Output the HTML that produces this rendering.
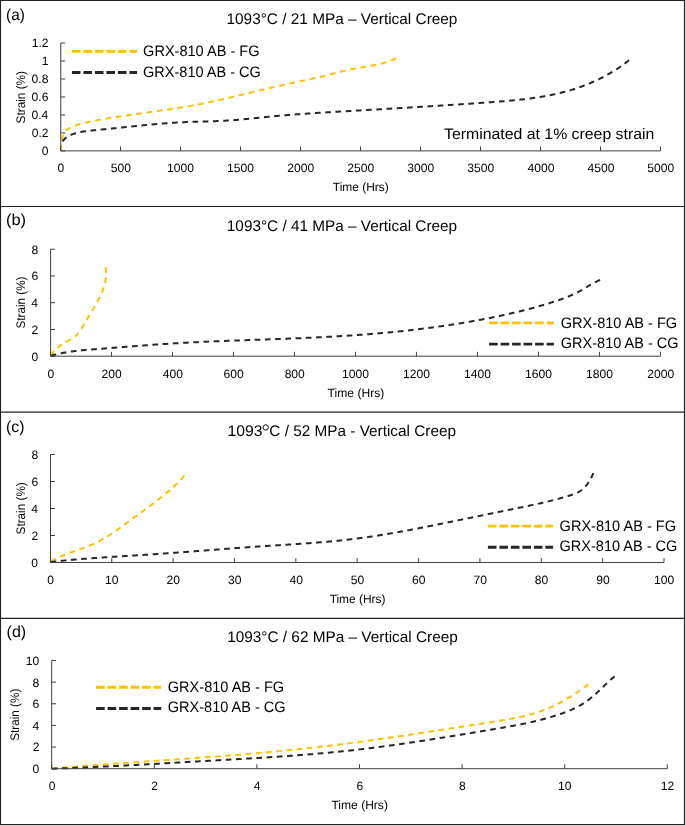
<!DOCTYPE html>
<html><head><meta charset="utf-8"><style>
html,body{margin:0;padding:0;background:#fff;}
svg{display:block;will-change:transform;}
text{font-family:"Liberation Sans",sans-serif;}
</style></head><body>
<svg width="685" height="825" viewBox="0 0 685 825" text-rendering="geometricPrecision">
<rect x="0" y="0" width="685" height="825" fill="#fff"/>
<text x="6.05" y="19.80" font-size="16.00" textLength="18.81" lengthAdjust="spacingAndGlyphs" fill="#000" >(a)</text>
<text x="226.53" y="24.20" font-size="15.40" textLength="230.91" lengthAdjust="spacingAndGlyphs" fill="#000" >1093°C / 21 MPa – Vertical Creep</text>
<path d="M61.00,150.50 L60.97,149.46 L60.96,148.44 L60.98,147.43 L61.03,146.44 L61.11,145.45 L61.20,144.47 L61.33,143.50 L61.47,142.52 L61.63,141.54 L61.82,140.56 L62.02,139.58 L62.24,138.58 L62.47,137.57 L62.74,136.56 L63.03,135.56 L63.37,134.59 L63.76,133.66 L64.21,132.78 L64.73,131.96 L65.33,131.22 L66.01,130.57 L66.75,129.99 L67.54,129.44 L68.36,128.92 L69.20,128.42 L70.06,127.94 L70.95,127.48 L71.86,127.03 L72.78,126.61 L73.71,126.21 L74.66,125.82 L75.62,125.45 L76.59,125.10 L77.56,124.77 L78.54,124.45 L79.52,124.15 L80.50,123.87 L81.48,123.60 L82.46,123.34 L83.44,123.09 L84.41,122.86 L85.39,122.63 L86.37,122.41 L87.35,122.20 L88.33,121.99 L89.31,121.79 L90.29,121.59 L91.28,121.39 L92.26,121.20 L93.24,121.00 L94.22,120.81 L95.21,120.62 L96.19,120.44 L97.17,120.25 L98.16,120.07 L99.14,119.88 L100.13,119.70 L101.12,119.53 L102.10,119.35 L103.09,119.17 L104.08,119.00 L105.07,118.83 L106.05,118.66 L107.04,118.49 L108.03,118.33 L109.02,118.16 L110.01,118.00 L111.00,117.83 L111.99,117.67 L112.98,117.51 L113.97,117.35 L114.96,117.20 L115.95,117.04 L116.95,116.89 L117.94,116.73 L118.93,116.58 L119.92,116.43 L120.92,116.28 L121.91,116.13 L122.90,115.98 L123.90,115.83 L124.89,115.68 L125.89,115.54 L126.88,115.39 L127.87,115.25 L128.87,115.10 L129.86,114.96 L130.86,114.81 L131.85,114.67 L132.85,114.53 L133.85,114.39 L134.84,114.25 L135.84,114.11 L136.83,113.97 L137.83,113.83 L138.82,113.69 L139.82,113.55 L140.82,113.41 L141.81,113.27 L142.81,113.13 L143.81,112.99 L144.80,112.86 L145.80,112.72 L146.80,112.58 L147.79,112.44 L148.79,112.30 L149.79,112.16 L150.78,112.02 L151.78,111.88 L152.78,111.74 L153.77,111.60 L154.77,111.46 L155.76,111.32 L156.76,111.18 L157.76,111.04 L158.75,110.90 L159.75,110.76 L160.75,110.61 L161.74,110.47 L162.74,110.33 L163.73,110.18 L164.73,110.04 L165.72,109.89 L166.72,109.74 L167.72,109.59 L168.71,109.45 L169.70,109.30 L170.70,109.15 L171.69,108.99 L172.69,108.84 L173.68,108.69 L174.68,108.53 L175.67,108.38 L176.66,108.22 L177.66,108.06 L178.65,107.90 L179.64,107.74 L180.63,107.58 L181.63,107.41 L182.62,107.25 L183.61,107.08 L184.60,106.91 L185.59,106.74 L186.58,106.57 L187.57,106.40 L188.56,106.22 L189.55,106.05 L190.54,105.87 L191.53,105.69 L192.52,105.51 L193.51,105.32 L194.49,105.14 L195.48,104.95 L196.47,104.76 L197.46,104.57 L198.44,104.38 L199.43,104.19 L200.41,103.99 L201.40,103.80 L202.39,103.60 L203.37,103.40 L204.36,103.20 L205.34,103.00 L206.32,102.80 L207.31,102.59 L208.29,102.39 L209.27,102.18 L210.26,101.97 L211.24,101.76 L212.22,101.55 L213.21,101.34 L214.19,101.13 L215.17,100.91 L216.15,100.70 L217.13,100.48 L218.11,100.27 L219.10,100.05 L220.08,99.83 L221.06,99.61 L222.04,99.39 L223.02,99.17 L224.00,98.95 L224.98,98.72 L225.96,98.50 L226.94,98.28 L227.92,98.05 L228.90,97.82 L229.88,97.60 L230.86,97.37 L231.84,97.14 L232.81,96.91 L233.79,96.68 L234.77,96.46 L235.75,96.23 L236.73,95.99 L237.71,95.76 L238.69,95.53 L239.66,95.30 L240.64,95.07 L241.62,94.83 L242.60,94.60 L243.58,94.37 L244.55,94.13 L245.53,93.90 L246.51,93.67 L247.49,93.43 L248.47,93.20 L249.44,92.96 L250.42,92.73 L251.40,92.49 L252.38,92.26 L253.35,92.03 L254.33,91.79 L255.31,91.56 L256.29,91.32 L257.27,91.09 L258.24,90.85 L259.22,90.62 L260.20,90.38 L261.18,90.15 L262.16,89.92 L263.13,89.68 L264.11,89.45 L265.09,89.22 L266.07,88.98 L267.05,88.75 L268.02,88.52 L269.00,88.29 L269.98,88.06 L270.96,87.83 L271.94,87.60 L272.92,87.37 L273.90,87.14 L274.88,86.91 L275.86,86.69 L276.84,86.46 L277.81,86.23 L278.79,86.01 L279.77,85.78 L280.75,85.56 L281.73,85.33 L282.71,85.11 L283.70,84.89 L284.68,84.67 L285.66,84.45 L286.64,84.23 L287.62,84.01 L288.60,83.80 L289.58,83.58 L290.56,83.36 L291.55,83.15 L292.53,82.94 L293.51,82.72 L294.49,82.51 L295.48,82.30 L296.46,82.09 L297.44,81.88 L298.43,81.68 L299.41,81.47 L300.39,81.26 L301.38,81.05 L302.36,80.84 L303.34,80.63 L304.32,80.42 L305.31,80.21 L306.29,80.00 L307.27,79.79 L308.26,79.58 L309.24,79.37 L310.22,79.16 L311.20,78.94 L312.18,78.73 L313.16,78.51 L314.14,78.29 L315.13,78.07 L316.11,77.85 L317.08,77.62 L318.06,77.40 L319.04,77.17 L320.02,76.94 L321.00,76.71 L321.98,76.47 L322.95,76.24 L323.93,76.00 L324.90,75.75 L325.88,75.51 L326.85,75.27 L327.83,75.02 L328.80,74.77 L329.78,74.52 L330.75,74.27 L331.72,74.02 L332.70,73.77 L333.67,73.52 L334.64,73.27 L335.62,73.02 L336.59,72.77 L337.57,72.53 L338.54,72.28 L339.52,72.04 L340.49,71.79 L341.47,71.55 L342.45,71.31 L343.42,71.08 L344.40,70.85 L345.38,70.62 L346.36,70.39 L347.34,70.17 L348.32,69.95 L349.30,69.73 L350.29,69.52 L351.27,69.32 L352.26,69.12 L353.24,68.92 L354.23,68.73 L355.22,68.54 L356.21,68.36 L357.20,68.18 L358.19,68.01 L359.19,67.83 L360.18,67.66 L361.17,67.49 L362.16,67.32 L363.16,67.15 L364.15,66.98 L365.14,66.81 L366.13,66.65 L367.13,66.47 L368.12,66.30 L369.11,66.13 L370.10,65.95 L371.09,65.77 L372.08,65.58 L373.06,65.40 L374.05,65.20 L375.03,65.00 L376.02,64.80 L377.00,64.59 L377.98,64.37 L378.96,64.15 L379.93,63.92 L380.91,63.68 L381.88,63.43 L382.85,63.18 L383.81,62.91 L384.78,62.64 L385.74,62.35 L386.70,62.06 L387.65,61.75 L388.60,61.43 L389.55,61.10 L390.50,60.75 L391.44,60.40 L392.38,60.03 L393.32,59.64 L394.25,59.24 L395.18,58.83 L396.10,58.40" fill="none" stroke="#FFC000" stroke-width="2.0" stroke-dasharray="5.762 4.650"/>
<path d="M62.59,141.29 L63.24,140.47 L63.93,139.71 L64.64,139.00 L65.38,138.33 L66.14,137.71 L66.92,137.13 L67.73,136.59 L68.55,136.09 L69.40,135.63 L70.26,135.19 L71.13,134.79 L72.02,134.42 L72.93,134.07 L73.84,133.75 L74.76,133.45 L75.70,133.17 L76.64,132.91 L77.58,132.66 L78.54,132.44 L79.50,132.22 L80.47,132.02 L81.44,131.84 L82.42,131.67 L83.40,131.50 L84.39,131.35 L85.38,131.21 L86.38,131.08 L87.38,130.96 L88.38,130.84 L89.38,130.73 L90.39,130.63 L91.40,130.53 L92.41,130.43 L93.42,130.33 L94.43,130.24 L95.44,130.14 L96.45,130.05 L97.46,129.95 L98.47,129.86 L99.47,129.76 L100.48,129.66 L101.49,129.56 L102.50,129.47 L103.50,129.37 L104.51,129.27 L105.51,129.17 L106.52,129.07 L107.52,128.97 L108.52,128.86 L109.53,128.76 L110.53,128.66 L111.53,128.56 L112.54,128.45 L113.54,128.35 L114.54,128.25 L115.54,128.14 L116.54,128.04 L117.54,127.94 L118.54,127.83 L119.54,127.73 L120.54,127.63 L121.54,127.52 L122.54,127.42 L123.53,127.31 L124.53,127.21 L125.53,127.11 L126.53,127.00 L127.53,126.90 L128.52,126.79 L129.52,126.69 L130.52,126.59 L131.51,126.49 L132.51,126.38 L133.51,126.28 L134.50,126.18 L135.50,126.08 L136.49,125.98 L137.49,125.88 L138.48,125.78 L139.48,125.68 L140.47,125.58 L141.47,125.48 L142.46,125.38 L143.46,125.28 L144.45,125.19 L145.45,125.09 L146.44,124.99 L147.44,124.90 L148.43,124.80 L149.43,124.71 L150.42,124.62 L151.42,124.53 L152.41,124.44 L153.41,124.35 L154.40,124.26 L155.40,124.17 L156.39,124.08 L157.39,124.00 L158.38,123.91 L159.38,123.83 L160.37,123.74 L161.37,123.66 L162.36,123.58 L163.36,123.50 L164.35,123.42 L165.35,123.35 L166.34,123.27 L167.34,123.20 L168.34,123.12 L169.33,123.05 L170.33,122.98 L171.33,122.91 L172.32,122.84 L173.32,122.78 L174.32,122.71 L175.32,122.65 L176.32,122.59 L177.31,122.53 L178.31,122.47 L179.31,122.41 L180.31,122.36 L181.31,122.30 L182.31,122.25 L183.31,122.20 L184.31,122.15 L185.31,122.11 L186.32,122.06 L187.32,122.02 L188.32,121.98 L189.32,121.94 L190.32,121.90 L191.33,121.86 L192.33,121.83 L193.33,121.79 L194.34,121.76 L195.34,121.73 L196.35,121.70 L197.35,121.67 L198.36,121.64 L199.36,121.61 L200.37,121.58 L201.37,121.55 L202.38,121.53 L203.38,121.50 L204.39,121.47 L205.39,121.44 L206.40,121.41 L207.40,121.38 L208.41,121.35 L209.42,121.32 L210.42,121.29 L211.43,121.26 L212.43,121.23 L213.44,121.20 L214.44,121.16 L215.45,121.13 L216.45,121.09 L217.46,121.05 L218.46,121.01 L219.47,120.97 L220.47,120.93 L221.47,120.88 L222.48,120.83 L223.48,120.78 L224.48,120.73 L225.49,120.68 L226.49,120.62 L227.49,120.56 L228.49,120.50 L229.49,120.44 L230.49,120.37 L231.49,120.30 L232.49,120.23 L233.49,120.15 L234.49,120.08 L235.49,120.00 L236.49,119.92 L237.49,119.83 L238.49,119.75 L239.49,119.66 L240.48,119.57 L241.48,119.48 L242.48,119.39 L243.48,119.30 L244.47,119.20 L245.47,119.11 L246.47,119.01 L247.46,118.91 L248.46,118.81 L249.46,118.71 L250.45,118.61 L251.45,118.51 L252.45,118.41 L253.44,118.31 L254.44,118.21 L255.43,118.10 L256.43,118.00 L257.42,117.90 L258.42,117.79 L259.42,117.69 L260.41,117.59 L261.41,117.48 L262.40,117.38 L263.40,117.28 L264.40,117.17 L265.39,117.07 L266.39,116.97 L267.38,116.87 L268.38,116.77 L269.38,116.68 L270.37,116.58 L271.37,116.48 L272.37,116.39 L273.37,116.29 L274.36,116.20 L275.36,116.11 L276.36,116.02 L277.36,115.93 L278.35,115.84 L279.35,115.75 L280.35,115.66 L281.35,115.57 L282.35,115.49 L283.35,115.40 L284.34,115.32 L285.34,115.24 L286.34,115.15 L287.34,115.07 L288.34,114.99 L289.34,114.91 L290.34,114.83 L291.34,114.75 L292.34,114.68 L293.34,114.60 L294.34,114.52 L295.34,114.45 L296.34,114.37 L297.34,114.30 L298.34,114.22 L299.34,114.15 L300.34,114.08 L301.34,114.01 L302.34,113.94 L303.34,113.86 L304.34,113.79 L305.34,113.73 L306.34,113.66 L307.34,113.59 L308.34,113.52 L309.34,113.45 L310.34,113.39 L311.34,113.32 L312.34,113.25 L313.34,113.19 L314.34,113.12 L315.34,113.06 L316.35,112.99 L317.35,112.93 L318.35,112.87 L319.35,112.80 L320.35,112.74 L321.35,112.68 L322.35,112.62 L323.35,112.55 L324.36,112.49 L325.36,112.43 L326.36,112.37 L327.36,112.31 L328.36,112.25 L329.36,112.19 L330.36,112.13 L331.36,112.07 L332.36,112.01 L333.37,111.95 L334.37,111.89 L335.37,111.83 L336.37,111.77 L337.37,111.71 L338.37,111.66 L339.37,111.60 L340.37,111.54 L341.38,111.48 L342.38,111.42 L343.38,111.36 L344.38,111.31 L345.38,111.25 L346.38,111.19 L347.38,111.13 L348.38,111.07 L349.38,111.01 L350.38,110.96 L351.38,110.90 L352.38,110.84 L353.39,110.78 L354.39,110.72 L355.39,110.67 L356.39,110.61 L357.39,110.55 L358.39,110.49 L359.39,110.43 L360.39,110.38 L361.39,110.32 L362.39,110.26 L363.39,110.20 L364.39,110.14 L365.39,110.09 L366.39,110.03 L367.39,109.97 L368.39,109.91 L369.39,109.86 L370.39,109.80 L371.39,109.74 L372.39,109.68 L373.40,109.62 L374.40,109.57 L375.40,109.51 L376.40,109.45 L377.40,109.39 L378.40,109.33 L379.40,109.28 L380.40,109.22 L381.40,109.16 L382.40,109.10 L383.40,109.04 L384.40,108.98 L385.40,108.93 L386.40,108.87 L387.40,108.81 L388.40,108.75 L389.40,108.69 L390.40,108.63 L391.40,108.58 L392.40,108.52 L393.40,108.46 L394.40,108.40 L395.40,108.34 L396.40,108.28 L397.40,108.22 L398.40,108.17 L399.40,108.11 L400.40,108.05 L401.40,107.99 L402.40,107.93 L403.40,107.87 L404.40,107.81 L405.40,107.75 L406.40,107.69 L407.40,107.63 L408.40,107.57 L409.40,107.51 L410.40,107.45 L411.40,107.39 L412.40,107.33 L413.40,107.27 L414.40,107.21 L415.40,107.15 L416.40,107.09 L417.40,107.03 L418.40,106.97 L419.40,106.91 L420.40,106.85 L421.40,106.79 L422.40,106.73 L423.40,106.67 L424.40,106.61 L425.40,106.55 L426.40,106.48 L427.40,106.42 L428.40,106.36 L429.40,106.30 L430.40,106.24 L431.40,106.17 L432.40,106.11 L433.40,106.05 L434.40,105.99 L435.40,105.93 L436.40,105.86 L437.40,105.80 L438.40,105.74 L439.40,105.67 L440.40,105.61 L441.40,105.55 L442.40,105.48 L443.40,105.42 L444.40,105.36 L445.40,105.29 L446.41,105.23 L447.41,105.16 L448.41,105.10 L449.41,105.03 L450.41,104.97 L451.41,104.90 L452.41,104.84 L453.41,104.77 L454.41,104.71 L455.41,104.64 L456.41,104.58 L457.41,104.51 L458.41,104.44 L459.41,104.38 L460.41,104.31 L461.41,104.24 L462.41,104.18 L463.42,104.11 L464.42,104.04 L465.42,103.98 L466.42,103.91 L467.42,103.84 L468.42,103.77 L469.42,103.70 L470.42,103.63 L471.42,103.57 L472.42,103.50 L473.43,103.43 L474.43,103.36 L475.43,103.29 L476.43,103.22 L477.43,103.15 L478.43,103.08 L479.43,103.01 L480.43,102.94 L481.44,102.87 L482.44,102.79 L483.44,102.72 L484.44,102.65 L485.44,102.58 L486.44,102.51 L487.44,102.44 L488.45,102.36 L489.45,102.29 L490.45,102.22 L491.45,102.14 L492.45,102.07 L493.45,102.00 L494.46,101.92 L495.46,101.84 L496.46,101.77 L497.46,101.69 L498.46,101.61 L499.46,101.54 L500.47,101.46 L501.47,101.38 L502.47,101.30 L503.47,101.21 L504.47,101.13 L505.47,101.05 L506.47,100.96 L507.47,100.88 L508.47,100.79 L509.47,100.70 L510.47,100.61 L511.47,100.52 L512.47,100.42 L513.47,100.33 L514.47,100.23 L515.46,100.13 L516.46,100.03 L517.46,99.93 L518.46,99.82 L519.45,99.72 L520.45,99.61 L521.45,99.50 L522.44,99.39 L523.44,99.27 L524.43,99.16 L525.43,99.04 L526.42,98.92 L527.42,98.80 L528.41,98.67 L529.40,98.54 L530.39,98.41 L531.39,98.28 L532.38,98.14 L533.37,98.00 L534.36,97.86 L535.35,97.72 L536.34,97.57 L537.33,97.42 L538.31,97.27 L539.30,97.11 L540.29,96.95 L541.27,96.79 L542.26,96.62 L543.24,96.45 L544.23,96.28 L545.21,96.11 L546.19,95.93 L547.18,95.74 L548.16,95.56 L549.14,95.37 L550.12,95.17 L551.10,94.98 L552.07,94.78 L553.05,94.57 L554.03,94.36 L555.00,94.15 L555.98,93.93 L556.95,93.71 L557.93,93.49 L558.90,93.26 L559.87,93.03 L560.84,92.79 L561.81,92.55 L562.78,92.30 L563.75,92.05 L564.71,91.79 L565.68,91.53 L566.65,91.27 L567.61,91.00 L568.57,90.73 L569.53,90.45 L570.50,90.16 L571.46,89.88 L572.41,89.58 L573.37,89.28 L574.33,88.98 L575.28,88.67 L576.24,88.36 L577.19,88.04 L578.14,87.72 L579.09,87.39 L580.04,87.06 L580.99,86.72 L581.93,86.37 L582.88,86.03 L583.82,85.67 L584.76,85.31 L585.70,84.95 L586.63,84.58 L587.57,84.21 L588.50,83.83 L589.43,83.45 L590.36,83.06 L591.29,82.66 L592.21,82.26 L593.13,81.86 L594.05,81.45 L594.97,81.04 L595.88,80.62 L596.80,80.19 L597.71,79.76 L598.61,79.33 L599.52,78.89 L600.42,78.44 L601.32,77.99 L602.22,77.54 L603.11,77.08 L604.00,76.61 L604.89,76.14 L605.77,75.66 L606.65,75.18 L607.53,74.70 L608.41,74.21 L609.28,73.71 L610.15,73.21 L611.01,72.70 L611.88,72.19 L612.73,71.67 L613.59,71.15 L614.44,70.62 L615.29,70.08 L616.13,69.55 L616.97,69.00 L617.81,68.45 L618.64,67.90 L619.47,67.34 L620.30,66.77 L621.12,66.20 L621.94,65.63 L622.75,65.04 L623.56,64.46 L624.36,63.87 L625.16,63.27 L625.96,62.67 L626.75,62.06 L627.54,61.45 L628.32,60.83 L629.10,60.20" fill="none" stroke="#262626" stroke-width="2.0" stroke-dasharray="5.667 4.573"/>
<path d="M60.75,43.02000000000001 V150.9 H660.5" fill="none" stroke="#404040" stroke-width="1.0"/>
<path d="M60.75,150.90h4.4M60.75,132.92h4.4M60.75,114.94h4.4M60.75,96.96h4.4M60.75,78.98h4.4M60.75,61.00h4.4M60.75,43.02h4.4M60.50,150.9v-4.4M120.50,150.9v-4.4M180.50,150.9v-4.4M240.50,150.9v-4.4M300.50,150.9v-4.4M360.50,150.9v-4.4M420.50,150.9v-4.4M480.50,150.9v-4.4M540.50,150.9v-4.4M600.50,150.9v-4.4M660.50,150.9v-4.4" fill="none" stroke="#404040" stroke-width="1.0"/>
<text x="41.64" y="155.30" font-size="12.10" textLength="6.73" lengthAdjust="spacingAndGlyphs" fill="#000" >0</text>
<text x="31.69" y="137.32" font-size="12.10" textLength="16.82" lengthAdjust="spacingAndGlyphs" fill="#000" >0.2</text>
<text x="31.43" y="119.34" font-size="12.10" textLength="16.82" lengthAdjust="spacingAndGlyphs" fill="#000" >0.4</text>
<text x="31.61" y="101.36" font-size="12.10" textLength="16.82" lengthAdjust="spacingAndGlyphs" fill="#000" >0.6</text>
<text x="31.61" y="83.38" font-size="12.10" textLength="16.82" lengthAdjust="spacingAndGlyphs" fill="#000" >0.8</text>
<text x="41.76" y="65.40" font-size="12.10" textLength="6.73" lengthAdjust="spacingAndGlyphs" fill="#000" >1</text>
<text x="31.69" y="47.42" font-size="12.10" textLength="16.82" lengthAdjust="spacingAndGlyphs" fill="#000" >1.2</text>
<text x="57.44" y="172.30" font-size="12.10" textLength="6.73" lengthAdjust="spacingAndGlyphs" fill="#000" >0</text>
<text x="110.70" y="172.30" font-size="12.10" textLength="20.19" lengthAdjust="spacingAndGlyphs" fill="#000" >500</text>
<text x="167.12" y="172.30" font-size="12.10" textLength="26.92" lengthAdjust="spacingAndGlyphs" fill="#000" >1000</text>
<text x="227.12" y="172.30" font-size="12.10" textLength="26.92" lengthAdjust="spacingAndGlyphs" fill="#000" >1500</text>
<text x="287.27" y="172.30" font-size="12.10" textLength="26.92" lengthAdjust="spacingAndGlyphs" fill="#000" >2000</text>
<text x="347.27" y="172.30" font-size="12.10" textLength="26.92" lengthAdjust="spacingAndGlyphs" fill="#000" >2500</text>
<text x="407.35" y="172.30" font-size="12.10" textLength="26.92" lengthAdjust="spacingAndGlyphs" fill="#000" >3000</text>
<text x="467.35" y="172.30" font-size="12.10" textLength="26.92" lengthAdjust="spacingAndGlyphs" fill="#000" >3500</text>
<text x="527.44" y="172.30" font-size="12.10" textLength="26.92" lengthAdjust="spacingAndGlyphs" fill="#000" >4000</text>
<text x="587.44" y="172.30" font-size="12.10" textLength="26.92" lengthAdjust="spacingAndGlyphs" fill="#000" >4500</text>
<text x="647.34" y="172.30" font-size="12.10" textLength="26.92" lengthAdjust="spacingAndGlyphs" fill="#000" >5000</text>
<text transform="translate(25.00,123.44) rotate(-90)" x="0" y="0" font-size="12.40" textLength="52.47" lengthAdjust="spacingAndGlyphs" fill="#000">Strain (%)</text>
<text x="332.83" y="191.40" font-size="12.00" textLength="55.90" lengthAdjust="spacingAndGlyphs" fill="#000" >Time (Hrs)</text>
<path d="M71.9,51.4H137.0" stroke="#FFC000" stroke-width="2.9" stroke-dasharray="8.6 2.9"/>
<path d="M71.9,72.5H137.0" stroke="#262626" stroke-width="2.9" stroke-dasharray="8.6 2.9"/>
<text x="143.07" y="55.90" font-size="15.10" textLength="116.41" lengthAdjust="spacingAndGlyphs" fill="#000" >GRX-810 AB - FG</text>
<text x="143.07" y="76.70" font-size="15.10" textLength="117.80" lengthAdjust="spacingAndGlyphs" fill="#000" >GRX-810 AB - CG</text>
<text x="444.05" y="138.70" font-size="15.30" textLength="210.27" lengthAdjust="spacingAndGlyphs" fill="#000" >Terminated at 1% creep strain</text>
<text x="5.98" y="224.80" font-size="16.00" textLength="20.14" lengthAdjust="spacingAndGlyphs" fill="#000" >(b)</text>
<text x="226.84" y="230.50" font-size="15.40" textLength="230.31" lengthAdjust="spacingAndGlyphs" fill="#000" >1093°C / 41 MPa – Vertical Creep</text>
<path d="M50.80,355.61 L51.38,354.72 L51.97,353.86 L52.59,353.03 L53.22,352.22 L53.88,351.43 L54.55,350.67 L55.25,349.94 L55.96,349.22 L56.70,348.53 L57.45,347.86 L58.22,347.21 L59.00,346.58 L59.80,345.98 L60.62,345.39 L61.46,344.82 L62.31,344.27 L63.17,343.73 L64.05,343.21 L64.93,342.70 L65.83,342.20 L66.72,341.71 L67.62,341.21 L68.51,340.72 L69.40,340.21 L70.28,339.70 L71.15,339.18 L72.00,338.64 L72.84,338.09 L73.66,337.51 L74.46,336.91 L75.23,336.28 L75.97,335.62 L76.68,334.93 L77.37,334.20 L78.03,333.45 L78.67,332.68 L79.28,331.88 L79.88,331.06 L80.45,330.22 L81.01,329.36 L81.56,328.50 L82.10,327.62 L82.62,326.74 L83.14,325.85 L83.66,324.96 L84.17,324.07 L84.68,323.18 L85.19,322.30 L85.70,321.42 L86.21,320.54 L86.72,319.66 L87.23,318.79 L87.75,317.92 L88.26,317.05 L88.78,316.18 L89.30,315.31 L89.82,314.44 L90.34,313.57 L90.87,312.70 L91.40,311.82 L91.92,310.95 L92.45,310.07 L92.98,309.19 L93.51,308.31 L94.03,307.43 L94.56,306.54 L95.08,305.66 L95.59,304.77 L96.10,303.87 L96.61,302.98 L97.11,302.08 L97.61,301.18 L98.09,300.28 L98.57,299.37 L99.04,298.47 L99.51,297.55 L99.96,296.64 L100.40,295.72 L100.83,294.80 L101.25,293.87 L101.66,292.95 L102.05,292.01 L102.43,291.08 L102.80,290.14 L103.15,289.19 L103.48,288.24 L103.80,287.29 L104.10,286.34 L104.38,285.37 L104.65,284.41 L104.89,283.44 L105.12,282.46 L105.33,281.48 L105.51,280.50 L105.67,279.51 L105.82,278.51 L105.93,277.51 L106.03,276.51 L106.10,275.49 L106.14,274.48 L106.16,273.45 L106.15,272.43 L106.12,271.39 L106.05,270.35 L105.96,269.31 L105.84,268.25 L105.69,267.19" fill="none" stroke="#FFC000" stroke-width="2.0" stroke-dasharray="5.709 4.607"/>
<path d="M50.79,355.89 L51.76,355.60 L52.72,355.33 L53.69,355.06 L54.66,354.81 L55.63,354.56 L56.60,354.32 L57.58,354.08 L58.55,353.86 L59.53,353.64 L60.50,353.43 L61.48,353.23 L62.46,353.03 L63.44,352.84 L64.43,352.65 L65.41,352.48 L66.40,352.31 L67.38,352.14 L68.37,351.98 L69.36,351.83 L70.34,351.68 L71.33,351.53 L72.33,351.39 L73.32,351.26 L74.31,351.13 L75.30,351.01 L76.30,350.89 L77.29,350.77 L78.29,350.66 L79.28,350.55 L80.28,350.44 L81.28,350.34 L82.27,350.24 L83.27,350.14 L84.27,350.05 L85.27,349.96 L86.27,349.87 L87.27,349.79 L88.27,349.70 L89.27,349.62 L90.27,349.54 L91.27,349.46 L92.28,349.38 L93.28,349.30 L94.28,349.23 L95.28,349.15 L96.28,349.08 L97.28,349.00 L98.29,348.93 L99.29,348.85 L100.29,348.78 L101.29,348.70 L102.29,348.63 L103.30,348.55 L104.30,348.48 L105.30,348.40 L106.30,348.33 L107.30,348.25 L108.30,348.17 L109.30,348.10 L110.30,348.02 L111.31,347.94 L112.31,347.87 L113.31,347.79 L114.31,347.71 L115.31,347.64 L116.31,347.56 L117.31,347.48 L118.31,347.40 L119.31,347.33 L120.31,347.25 L121.31,347.17 L122.31,347.09 L123.31,347.02 L124.31,346.94 L125.31,346.86 L126.31,346.79 L127.31,346.71 L128.32,346.63 L129.32,346.55 L130.32,346.48 L131.32,346.40 L132.32,346.32 L133.32,346.25 L134.32,346.17 L135.32,346.10 L136.32,346.02 L137.32,345.94 L138.32,345.87 L139.32,345.79 L140.32,345.72 L141.32,345.64 L142.32,345.57 L143.32,345.49 L144.32,345.42 L145.32,345.35 L146.32,345.27 L147.32,345.20 L148.32,345.12 L149.32,345.05 L150.32,344.98 L151.32,344.91 L152.32,344.84 L153.32,344.76 L154.32,344.69 L155.32,344.62 L156.32,344.55 L157.32,344.48 L158.32,344.41 L159.32,344.35 L160.32,344.28 L161.32,344.21 L162.32,344.14 L163.32,344.07 L164.32,344.01 L165.32,343.94 L166.32,343.88 L167.32,343.81 L168.32,343.75 L169.32,343.68 L170.32,343.62 L171.32,343.56 L172.32,343.50 L173.32,343.43 L174.32,343.37 L175.32,343.31 L176.32,343.25 L177.32,343.19 L178.32,343.14 L179.33,343.08 L180.33,343.02 L181.33,342.96 L182.33,342.91 L183.33,342.85 L184.33,342.80 L185.33,342.74 L186.33,342.69 L187.33,342.64 L188.34,342.58 L189.34,342.53 L190.34,342.48 L191.34,342.43 L192.34,342.38 L193.34,342.32 L194.34,342.27 L195.34,342.22 L196.35,342.18 L197.35,342.13 L198.35,342.08 L199.35,342.03 L200.35,341.98 L201.35,341.94 L202.36,341.89 L203.36,341.84 L204.36,341.80 L205.36,341.75 L206.36,341.71 L207.37,341.66 L208.37,341.62 L209.37,341.57 L210.37,341.53 L211.37,341.49 L212.38,341.44 L213.38,341.40 L214.38,341.36 L215.38,341.32 L216.38,341.28 L217.39,341.23 L218.39,341.19 L219.39,341.15 L220.39,341.11 L221.40,341.07 L222.40,341.03 L223.40,340.99 L224.40,340.95 L225.40,340.91 L226.41,340.87 L227.41,340.84 L228.41,340.80 L229.41,340.76 L230.42,340.72 L231.42,340.68 L232.42,340.64 L233.42,340.61 L234.43,340.57 L235.43,340.53 L236.43,340.50 L237.43,340.46 L238.44,340.42 L239.44,340.38 L240.44,340.35 L241.45,340.31 L242.45,340.28 L243.45,340.24 L244.45,340.20 L245.46,340.17 L246.46,340.13 L247.46,340.10 L248.46,340.06 L249.47,340.02 L250.47,339.99 L251.47,339.95 L252.47,339.92 L253.48,339.88 L254.48,339.85 L255.48,339.81 L256.49,339.78 L257.49,339.74 L258.49,339.71 L259.49,339.67 L260.50,339.64 L261.50,339.60 L262.50,339.56 L263.50,339.53 L264.51,339.49 L265.51,339.46 L266.51,339.42 L267.52,339.39 L268.52,339.35 L269.52,339.31 L270.52,339.28 L271.53,339.24 L272.53,339.21 L273.53,339.17 L274.53,339.13 L275.54,339.10 L276.54,339.06 L277.54,339.02 L278.55,338.99 L279.55,338.95 L280.55,338.91 L281.55,338.88 L282.56,338.84 L283.56,338.80 L284.56,338.76 L285.56,338.73 L286.57,338.69 L287.57,338.65 L288.57,338.61 L289.57,338.57 L290.58,338.53 L291.58,338.49 L292.58,338.45 L293.58,338.41 L294.59,338.37 L295.59,338.33 L296.59,338.29 L297.59,338.25 L298.60,338.21 L299.60,338.17 L300.60,338.13 L301.60,338.08 L302.61,338.04 L303.61,338.00 L304.61,337.96 L305.61,337.91 L306.61,337.87 L307.62,337.82 L308.62,337.78 L309.62,337.74 L310.62,337.69 L311.63,337.64 L312.63,337.60 L313.63,337.55 L314.63,337.50 L315.63,337.46 L316.64,337.41 L317.64,337.36 L318.64,337.31 L319.64,337.26 L320.64,337.22 L321.64,337.17 L322.65,337.11 L323.65,337.06 L324.65,337.01 L325.65,336.96 L326.65,336.91 L327.66,336.86 L328.66,336.80 L329.66,336.75 L330.66,336.69 L331.66,336.64 L332.66,336.58 L333.66,336.53 L334.67,336.47 L335.67,336.42 L336.67,336.36 L337.67,336.30 L338.67,336.24 L339.67,336.18 L340.67,336.12 L341.67,336.06 L342.67,336.00 L343.68,335.94 L344.68,335.88 L345.68,335.81 L346.68,335.75 L347.68,335.69 L348.68,335.62 L349.68,335.55 L350.68,335.49 L351.68,335.42 L352.68,335.35 L353.68,335.29 L354.68,335.22 L355.68,335.15 L356.68,335.08 L357.68,335.01 L358.68,334.93 L359.69,334.86 L360.69,334.79 L361.69,334.72 L362.69,334.64 L363.69,334.57 L364.69,334.49 L365.69,334.41 L366.68,334.34 L367.68,334.26 L368.68,334.18 L369.68,334.10 L370.68,334.02 L371.68,333.94 L372.68,333.86 L373.68,333.77 L374.68,333.69 L375.68,333.61 L376.68,333.52 L377.68,333.44 L378.68,333.35 L379.68,333.26 L380.67,333.18 L381.67,333.09 L382.67,333.00 L383.67,332.91 L384.67,332.82 L385.67,332.72 L386.67,332.63 L387.66,332.54 L388.66,332.44 L389.66,332.35 L390.66,332.25 L391.66,332.16 L392.65,332.06 L393.65,331.96 L394.65,331.86 L395.65,331.76 L396.64,331.66 L397.64,331.56 L398.64,331.46 L399.64,331.35 L400.63,331.25 L401.63,331.15 L402.63,331.04 L403.62,330.93 L404.62,330.83 L405.62,330.72 L406.61,330.61 L407.61,330.50 L408.61,330.39 L409.60,330.28 L410.60,330.16 L411.60,330.05 L412.59,329.93 L413.59,329.82 L414.58,329.70 L415.58,329.58 L416.57,329.47 L417.57,329.35 L418.56,329.23 L419.56,329.11 L420.55,328.98 L421.55,328.86 L422.54,328.74 L423.54,328.61 L424.53,328.49 L425.53,328.36 L426.52,328.23 L427.52,328.11 L428.51,327.98 L429.50,327.85 L430.50,327.71 L431.49,327.58 L432.49,327.45 L433.48,327.31 L434.47,327.18 L435.47,327.04 L436.46,326.91 L437.45,326.77 L438.44,326.63 L439.44,326.49 L440.43,326.35 L441.42,326.21 L442.41,326.06 L443.41,325.92 L444.40,325.77 L445.39,325.63 L446.38,325.48 L447.37,325.33 L448.36,325.18 L449.36,325.03 L450.35,324.88 L451.34,324.73 L452.33,324.57 L453.32,324.42 L454.31,324.26 L455.30,324.11 L456.29,323.95 L457.28,323.79 L458.27,323.63 L459.26,323.47 L460.25,323.31 L461.24,323.15 L462.23,322.98 L463.22,322.82 L464.21,322.65 L465.20,322.48 L466.19,322.31 L467.18,322.15 L468.16,321.97 L469.15,321.80 L470.14,321.63 L471.13,321.46 L472.12,321.28 L473.10,321.10 L474.09,320.93 L475.08,320.75 L476.07,320.57 L477.05,320.39 L478.04,320.21 L479.03,320.02 L480.01,319.84 L481.00,319.65 L481.99,319.47 L482.97,319.28 L483.96,319.09 L484.94,318.90 L485.93,318.71 L486.91,318.52 L487.90,318.32 L488.88,318.13 L489.87,317.93 L490.85,317.74 L491.84,317.54 L492.82,317.34 L493.81,317.14 L494.79,316.93 L495.77,316.73 L496.76,316.53 L497.74,316.32 L498.72,316.11 L499.70,315.91 L500.69,315.70 L501.67,315.48 L502.65,315.27 L503.63,315.06 L504.61,314.84 L505.59,314.63 L506.57,314.41 L507.55,314.19 L508.53,313.97 L509.51,313.74 L510.49,313.52 L511.47,313.30 L512.45,313.07 L513.43,312.84 L514.40,312.61 L515.38,312.38 L516.36,312.15 L517.33,311.91 L518.31,311.67 L519.28,311.44 L520.26,311.20 L521.23,310.96 L522.21,310.71 L523.18,310.47 L524.15,310.22 L525.13,309.98 L526.10,309.73 L527.07,309.48 L528.04,309.22 L529.01,308.97 L529.98,308.71 L530.95,308.45 L531.92,308.19 L532.89,307.93 L533.85,307.67 L534.82,307.40 L535.79,307.14 L536.75,306.87 L537.72,306.60 L538.68,306.32 L539.65,306.05 L540.61,305.77 L541.57,305.50 L542.53,305.22 L543.49,304.93 L544.45,304.65 L545.41,304.36 L546.37,304.08 L547.33,303.79 L548.29,303.49 L549.25,303.20 L550.20,302.90 L551.16,302.61 L552.11,302.31 L553.07,302.00 L554.02,301.70 L554.97,301.39 L555.92,301.08 L556.87,300.76 L557.82,300.44 L558.76,300.12 L559.71,299.79 L560.65,299.46 L561.59,299.12 L562.53,298.78 L563.46,298.43 L564.40,298.08 L565.33,297.72 L566.26,297.36 L567.19,296.99 L568.11,296.61 L569.03,296.23 L569.95,295.84 L570.87,295.44 L571.78,295.04 L572.69,294.63 L573.60,294.21 L574.50,293.78 L575.40,293.35 L576.30,292.90 L577.19,292.45 L578.08,291.99 L578.97,291.52 L579.85,291.04 L580.73,290.56 L581.61,290.06 L582.48,289.56 L583.35,289.06 L584.22,288.55 L585.09,288.04 L585.96,287.52 L586.83,287.01 L587.69,286.50 L588.56,285.98 L589.43,285.47 L590.30,284.97 L591.18,284.46 L592.05,283.96 L592.93,283.47 L593.81,282.99 L594.69,282.51 L595.58,282.05 L596.47,281.59 L597.37,281.15 L598.27,280.71 L599.18,280.30 L600.10,279.89" fill="none" stroke="#262626" stroke-width="2.0" stroke-dasharray="5.666 4.573"/>
<path d="M50.6,249.2 V356.2 H660.45" fill="none" stroke="#404040" stroke-width="1.0"/>
<path d="M50.6,356.20h4.4M50.6,329.45h4.4M50.6,302.70h4.4M50.6,275.95h4.4M50.6,249.20h4.4M50.45,356.2v-4.4M111.45,356.2v-4.4M172.45,356.2v-4.4M233.45,356.2v-4.4M294.45,356.2v-4.4M355.45,356.2v-4.4M416.45,356.2v-4.4M477.45,356.2v-4.4M538.45,356.2v-4.4M599.45,356.2v-4.4M660.45,356.2v-4.4" fill="none" stroke="#404040" stroke-width="1.0"/>
<text x="31.44" y="360.60" font-size="12.10" textLength="6.73" lengthAdjust="spacingAndGlyphs" fill="#000" >0</text>
<text x="31.58" y="333.85" font-size="12.10" textLength="6.73" lengthAdjust="spacingAndGlyphs" fill="#000" >2</text>
<text x="31.33" y="307.10" font-size="12.10" textLength="6.73" lengthAdjust="spacingAndGlyphs" fill="#000" >4</text>
<text x="31.50" y="280.35" font-size="12.10" textLength="6.73" lengthAdjust="spacingAndGlyphs" fill="#000" >6</text>
<text x="31.50" y="253.60" font-size="12.10" textLength="6.73" lengthAdjust="spacingAndGlyphs" fill="#000" >8</text>
<text x="47.39" y="377.60" font-size="12.10" textLength="6.73" lengthAdjust="spacingAndGlyphs" fill="#000" >0</text>
<text x="101.59" y="377.60" font-size="12.10" textLength="20.19" lengthAdjust="spacingAndGlyphs" fill="#000" >200</text>
<text x="162.75" y="377.60" font-size="12.10" textLength="20.19" lengthAdjust="spacingAndGlyphs" fill="#000" >400</text>
<text x="223.58" y="377.60" font-size="12.10" textLength="20.19" lengthAdjust="spacingAndGlyphs" fill="#000" >600</text>
<text x="284.63" y="377.60" font-size="12.10" textLength="20.19" lengthAdjust="spacingAndGlyphs" fill="#000" >800</text>
<text x="342.07" y="377.60" font-size="12.10" textLength="26.92" lengthAdjust="spacingAndGlyphs" fill="#000" >1000</text>
<text x="403.07" y="377.60" font-size="12.10" textLength="26.92" lengthAdjust="spacingAndGlyphs" fill="#000" >1200</text>
<text x="464.07" y="377.60" font-size="12.10" textLength="26.92" lengthAdjust="spacingAndGlyphs" fill="#000" >1400</text>
<text x="525.07" y="377.60" font-size="12.10" textLength="26.92" lengthAdjust="spacingAndGlyphs" fill="#000" >1600</text>
<text x="586.07" y="377.60" font-size="12.10" textLength="26.92" lengthAdjust="spacingAndGlyphs" fill="#000" >1800</text>
<text x="647.22" y="377.60" font-size="12.10" textLength="26.92" lengthAdjust="spacingAndGlyphs" fill="#000" >2000</text>
<path d="M489.1,322.9H553.9" stroke="#FFC000" stroke-width="2.9" stroke-dasharray="8.6 2.9"/>
<path d="M489.1,344.1H553.9" stroke="#262626" stroke-width="2.9" stroke-dasharray="8.6 2.9"/>
<text x="560.77" y="327.80" font-size="15.10" textLength="116.41" lengthAdjust="spacingAndGlyphs" fill="#000" >GRX-810 AB - FG</text>
<text x="560.77" y="348.20" font-size="15.10" textLength="117.80" lengthAdjust="spacingAndGlyphs" fill="#000" >GRX-810 AB - CG</text>
<text x="6.02" y="431.80" font-size="16.00" textLength="18.35" lengthAdjust="spacingAndGlyphs" fill="#000" >(c)</text>
<text x="227.40" y="436.20" font-size="15.40" textLength="35.09" lengthAdjust="spacingAndGlyphs" fill="#000" >1093</text>
<circle cx="265.75" cy="427.4" r="2.65" fill="none" stroke="#000" stroke-width="0.95"/>
<text x="269.32" y="436.20" font-size="15.40" textLength="186.72" lengthAdjust="spacingAndGlyphs" fill="#000" >C / 52 MPa - Vertical Creep</text>
<path d="M50.90,561.50 L51.77,560.99 L52.64,560.48 L53.52,559.99 L54.40,559.52 L55.30,559.05 L56.19,558.59 L57.10,558.15 L58.00,557.71 L58.91,557.29 L59.83,556.87 L60.75,556.46 L61.68,556.06 L62.61,555.67 L63.54,555.28 L64.48,554.90 L65.41,554.53 L66.36,554.16 L67.30,553.79 L68.25,553.43 L69.20,553.08 L70.15,552.73 L71.10,552.38 L72.05,552.03 L73.01,551.69 L73.96,551.34 L74.92,551.00 L75.88,550.66 L76.83,550.32 L77.79,549.98 L78.75,549.64 L79.70,549.30 L80.66,548.95 L81.61,548.61 L82.56,548.26 L83.51,547.91 L84.46,547.55 L85.41,547.20 L86.35,546.83 L87.29,546.47 L88.23,546.10 L89.17,545.72 L90.10,545.34 L91.03,544.95 L91.96,544.55 L92.88,544.15 L93.79,543.74 L94.71,543.32 L95.61,542.89 L96.52,542.46 L97.42,542.01 L98.31,541.56 L99.20,541.10 L100.08,540.63 L100.97,540.16 L101.84,539.68 L102.72,539.19 L103.59,538.70 L104.45,538.19 L105.31,537.69 L106.17,537.17 L107.03,536.65 L107.88,536.13 L108.73,535.59 L109.58,535.06 L110.42,534.52 L111.27,533.97 L112.10,533.42 L112.94,532.86 L113.77,532.30 L114.61,531.74 L115.44,531.17 L116.26,530.60 L117.09,530.02 L117.91,529.44 L118.74,528.86 L119.56,528.27 L120.38,527.69 L121.19,527.10 L122.01,526.50 L122.83,525.91 L123.64,525.31 L124.45,524.72 L125.27,524.12 L126.08,523.51 L126.89,522.91 L127.70,522.31 L128.52,521.71 L129.33,521.10 L130.14,520.50 L130.95,519.89 L131.76,519.29 L132.57,518.68 L133.39,518.08 L134.20,517.48 L135.01,516.88 L135.83,516.28 L136.64,515.68 L137.46,515.08 L138.27,514.48 L139.09,513.88 L139.91,513.28 L140.72,512.68 L141.54,512.09 L142.36,511.49 L143.17,510.89 L143.99,510.30 L144.80,509.70 L145.62,509.10 L146.43,508.50 L147.25,507.90 L148.06,507.30 L148.87,506.70 L149.69,506.10 L150.50,505.50 L151.31,504.90 L152.12,504.29 L152.92,503.69 L153.73,503.08 L154.53,502.47 L155.33,501.86 L156.14,501.25 L156.94,500.64 L157.73,500.02 L158.53,499.40 L159.32,498.78 L160.11,498.16 L160.90,497.53 L161.69,496.91 L162.47,496.28 L163.25,495.64 L164.03,495.01 L164.81,494.37 L165.58,493.73 L166.35,493.08 L167.12,492.43 L167.89,491.78 L168.65,491.13 L169.41,490.47 L170.16,489.81 L170.91,489.14 L171.66,488.47 L172.40,487.79 L173.14,487.12 L173.88,486.43 L174.61,485.75 L175.34,485.05 L176.07,484.36 L176.79,483.66 L177.50,482.95 L178.21,482.24 L178.92,481.52 L179.62,480.80 L180.32,480.08 L181.01,479.34 L181.70,478.61 L182.38,477.86 L183.06,477.11 L183.73,476.36 L184.40,475.60" fill="none" stroke="#FFC000" stroke-width="2.0" stroke-dasharray="5.704 4.603"/>
<path d="M50.60,561.98 L51.59,561.87 L52.59,561.76 L53.59,561.65 L54.58,561.54 L55.58,561.43 L56.57,561.33 L57.57,561.22 L58.57,561.12 L59.56,561.02 L60.56,560.91 L61.56,560.81 L62.56,560.72 L63.55,560.62 L64.55,560.52 L65.55,560.42 L66.54,560.33 L67.54,560.24 L68.54,560.14 L69.54,560.05 L70.54,559.96 L71.53,559.87 L72.53,559.78 L73.53,559.70 L74.53,559.61 L75.53,559.52 L76.53,559.44 L77.53,559.35 L78.53,559.27 L79.52,559.19 L80.52,559.11 L81.52,559.03 L82.52,558.95 L83.52,558.87 L84.52,558.79 L85.52,558.71 L86.52,558.63 L87.52,558.56 L88.52,558.48 L89.52,558.41 L90.52,558.33 L91.52,558.26 L92.52,558.19 L93.52,558.12 L94.52,558.04 L95.52,557.97 L96.52,557.90 L97.52,557.83 L98.52,557.76 L99.52,557.69 L100.52,557.63 L101.52,557.56 L102.52,557.49 L103.52,557.42 L104.52,557.36 L105.53,557.29 L106.53,557.22 L107.53,557.16 L108.53,557.09 L109.53,557.03 L110.53,556.96 L111.53,556.90 L112.53,556.84 L113.53,556.77 L114.53,556.71 L115.54,556.65 L116.54,556.58 L117.54,556.52 L118.54,556.46 L119.54,556.40 L120.54,556.33 L121.54,556.27 L122.54,556.21 L123.55,556.15 L124.55,556.09 L125.55,556.03 L126.55,555.96 L127.55,555.90 L128.55,555.84 L129.55,555.78 L130.55,555.72 L131.56,555.66 L132.56,555.59 L133.56,555.53 L134.56,555.47 L135.56,555.41 L136.56,555.35 L137.56,555.29 L138.56,555.22 L139.57,555.16 L140.57,555.10 L141.57,555.04 L142.57,554.97 L143.57,554.91 L144.57,554.85 L145.57,554.78 L146.57,554.72 L147.57,554.66 L148.58,554.59 L149.58,554.53 L150.58,554.46 L151.58,554.40 L152.58,554.33 L153.58,554.26 L154.58,554.20 L155.58,554.13 L156.58,554.06 L157.58,553.99 L158.58,553.92 L159.58,553.86 L160.58,553.79 L161.58,553.72 L162.58,553.65 L163.58,553.58 L164.58,553.51 L165.59,553.44 L166.59,553.36 L167.59,553.29 L168.59,553.22 L169.59,553.15 L170.59,553.08 L171.59,553.00 L172.59,552.93 L173.59,552.86 L174.59,552.78 L175.59,552.71 L176.58,552.63 L177.58,552.56 L178.58,552.48 L179.58,552.41 L180.58,552.33 L181.58,552.26 L182.58,552.18 L183.58,552.11 L184.58,552.03 L185.58,551.96 L186.58,551.88 L187.58,551.80 L188.58,551.73 L189.58,551.65 L190.58,551.57 L191.58,551.50 L192.58,551.42 L193.58,551.34 L194.58,551.26 L195.58,551.19 L196.58,551.11 L197.58,551.03 L198.58,550.95 L199.58,550.88 L200.57,550.80 L201.57,550.72 L202.57,550.64 L203.57,550.56 L204.57,550.49 L205.57,550.41 L206.57,550.33 L207.57,550.25 L208.57,550.17 L209.57,550.10 L210.57,550.02 L211.57,549.94 L212.57,549.86 L213.57,549.79 L214.57,549.71 L215.57,549.63 L216.57,549.55 L217.57,549.48 L218.57,549.40 L219.57,549.32 L220.57,549.24 L221.56,549.17 L222.56,549.09 L223.56,549.01 L224.56,548.94 L225.56,548.86 L226.56,548.78 L227.56,548.71 L228.56,548.63 L229.56,548.56 L230.56,548.48 L231.56,548.41 L232.56,548.33 L233.56,548.26 L234.56,548.18 L235.56,548.11 L236.56,548.03 L237.56,547.96 L238.56,547.88 L239.56,547.81 L240.56,547.74 L241.56,547.67 L242.56,547.59 L243.56,547.52 L244.56,547.45 L245.56,547.38 L246.57,547.31 L247.57,547.24 L248.57,547.16 L249.57,547.09 L250.57,547.02 L251.57,546.96 L252.57,546.89 L253.57,546.82 L254.57,546.75 L255.57,546.68 L256.57,546.61 L257.57,546.55 L258.57,546.48 L259.58,546.41 L260.58,546.35 L261.58,546.28 L262.58,546.22 L263.58,546.15 L264.58,546.09 L265.58,546.02 L266.58,545.96 L267.59,545.89 L268.59,545.83 L269.59,545.77 L270.59,545.70 L271.59,545.64 L272.59,545.58 L273.59,545.51 L274.60,545.45 L275.60,545.39 L276.60,545.32 L277.60,545.26 L278.60,545.20 L279.60,545.13 L280.61,545.07 L281.61,545.01 L282.61,544.94 L283.61,544.88 L284.61,544.82 L285.61,544.75 L286.62,544.69 L287.62,544.63 L288.62,544.56 L289.62,544.50 L290.62,544.43 L291.62,544.37 L292.62,544.30 L293.63,544.24 L294.63,544.17 L295.63,544.10 L296.63,544.04 L297.63,543.97 L298.63,543.90 L299.63,543.83 L300.63,543.77 L301.63,543.70 L302.63,543.63 L303.64,543.56 L304.64,543.49 L305.64,543.42 L306.64,543.34 L307.64,543.27 L308.64,543.20 L309.64,543.13 L310.64,543.05 L311.64,542.98 L312.64,542.90 L313.64,542.83 L314.64,542.75 L315.64,542.67 L316.64,542.59 L317.64,542.51 L318.64,542.44 L319.64,542.35 L320.64,542.27 L321.64,542.19 L322.64,542.11 L323.64,542.02 L324.64,541.94 L325.63,541.85 L326.63,541.77 L327.63,541.68 L328.63,541.59 L329.63,541.50 L330.63,541.41 L331.63,541.32 L332.62,541.22 L333.62,541.13 L334.62,541.03 L335.62,540.94 L336.62,540.84 L337.61,540.74 L338.61,540.64 L339.61,540.54 L340.60,540.44 L341.60,540.33 L342.60,540.23 L343.59,540.12 L344.59,540.01 L345.59,539.90 L346.58,539.79 L347.58,539.68 L348.57,539.57 L349.57,539.45 L350.56,539.34 L351.56,539.22 L352.55,539.10 L353.55,538.98 L354.54,538.86 L355.54,538.74 L356.53,538.61 L357.53,538.48 L358.52,538.36 L359.51,538.23 L360.51,538.09 L361.50,537.96 L362.49,537.83 L363.49,537.69 L364.48,537.55 L365.47,537.42 L366.47,537.28 L367.46,537.13 L368.45,536.99 L369.44,536.85 L370.43,536.70 L371.42,536.55 L372.42,536.41 L373.41,536.26 L374.40,536.10 L375.39,535.95 L376.38,535.80 L377.37,535.64 L378.36,535.49 L379.35,535.33 L380.34,535.17 L381.33,535.01 L382.32,534.85 L383.31,534.69 L384.30,534.53 L385.29,534.36 L386.28,534.20 L387.27,534.03 L388.26,533.86 L389.24,533.69 L390.23,533.52 L391.22,533.35 L392.21,533.18 L393.20,533.01 L394.19,532.84 L395.17,532.66 L396.16,532.49 L397.15,532.31 L398.14,532.13 L399.12,531.95 L400.11,531.78 L401.10,531.60 L402.08,531.42 L403.07,531.23 L404.06,531.05 L405.04,530.87 L406.03,530.68 L407.02,530.50 L408.00,530.31 L408.99,530.13 L409.97,529.94 L410.96,529.75 L411.94,529.57 L412.93,529.38 L413.92,529.19 L414.90,529.00 L415.89,528.81 L416.87,528.62 L417.86,528.43 L418.84,528.23 L419.83,528.04 L420.81,527.85 L421.79,527.65 L422.78,527.46 L423.76,527.26 L424.75,527.07 L425.73,526.87 L426.72,526.68 L427.70,526.48 L428.68,526.28 L429.67,526.09 L430.65,525.89 L431.63,525.69 L432.62,525.49 L433.60,525.30 L434.58,525.10 L435.57,524.90 L436.55,524.70 L437.53,524.50 L438.52,524.30 L439.50,524.10 L440.48,523.90 L441.46,523.70 L442.45,523.50 L443.43,523.30 L444.41,523.10 L445.39,522.90 L446.38,522.70 L447.36,522.50 L448.34,522.30 L449.32,522.10 L450.30,521.90 L451.29,521.69 L452.27,521.49 L453.25,521.29 L454.23,521.09 L455.21,520.89 L456.20,520.69 L457.18,520.49 L458.16,520.29 L459.14,520.09 L460.12,519.89 L461.10,519.69 L462.08,519.49 L463.07,519.28 L464.05,519.08 L465.03,518.88 L466.01,518.68 L466.99,518.48 L467.97,518.28 L468.95,518.08 L469.94,517.88 L470.92,517.68 L471.90,517.48 L472.88,517.27 L473.86,517.07 L474.84,516.87 L475.82,516.67 L476.80,516.47 L477.78,516.27 L478.77,516.07 L479.75,515.87 L480.73,515.66 L481.71,515.46 L482.69,515.26 L483.67,515.06 L484.65,514.86 L485.63,514.66 L486.62,514.46 L487.60,514.25 L488.58,514.05 L489.56,513.85 L490.54,513.65 L491.52,513.45 L492.50,513.25 L493.49,513.04 L494.47,512.84 L495.45,512.64 L496.43,512.44 L497.41,512.24 L498.39,512.04 L499.38,511.83 L500.36,511.63 L501.34,511.43 L502.32,511.23 L503.30,511.03 L504.29,510.82 L505.27,510.62 L506.25,510.42 L507.23,510.22 L508.21,510.01 L509.20,509.81 L510.18,509.61 L511.16,509.41 L512.14,509.20 L513.13,509.00 L514.11,508.80 L515.09,508.60 L516.08,508.39 L517.06,508.19 L518.04,507.99 L519.03,507.78 L520.01,507.58 L520.99,507.38 L521.98,507.18 L522.96,506.97 L523.94,506.77 L524.93,506.56 L525.91,506.36 L526.89,506.15 L527.88,505.95 L528.86,505.74 L529.84,505.53 L530.83,505.33 L531.81,505.12 L532.79,504.91 L533.77,504.69 L534.76,504.48 L535.74,504.27 L536.72,504.05 L537.70,503.84 L538.68,503.62 L539.66,503.40 L540.64,503.18 L541.62,502.96 L542.60,502.73 L543.57,502.51 L544.55,502.28 L545.53,502.05 L546.51,501.82 L547.48,501.59 L548.46,501.35 L549.43,501.11 L550.41,500.87 L551.38,500.63 L552.35,500.39 L553.32,500.14 L554.29,499.89 L555.26,499.64 L556.23,499.38 L557.20,499.13 L558.17,498.87 L559.13,498.60 L560.10,498.34 L561.06,498.07 L562.03,497.79 L562.99,497.52 L563.95,497.24 L564.91,496.96 L565.87,496.67 L566.83,496.38 L567.78,496.09 L568.74,495.79 L569.69,495.49 L570.65,495.19 L571.60,494.88 L572.54,494.56 L573.48,494.23 L574.42,493.88 L575.34,493.52 L576.25,493.13 L577.14,492.72 L578.02,492.28 L578.89,491.81 L579.73,491.30 L580.56,490.76 L581.36,490.20 L582.15,489.60 L582.91,488.96 L583.65,488.30 L584.37,487.61 L585.07,486.90 L585.75,486.15 L586.41,485.38 L587.04,484.58 L587.65,483.76 L588.24,482.92 L588.80,482.06 L589.35,481.18 L589.87,480.29 L590.38,479.39 L590.86,478.48 L591.33,477.57 L591.78,476.65 L592.21,475.73 L592.62,474.82 L593.02,473.90 L593.40,473.00" fill="none" stroke="#262626" stroke-width="2.0" stroke-dasharray="5.666 4.573"/>
<path d="M50.5,454.5 V562.5 H664.0" fill="none" stroke="#404040" stroke-width="1.0"/>
<path d="M50.5,562.50h4.4M50.5,535.50h4.4M50.5,508.50h4.4M50.5,481.50h4.4M50.5,454.50h4.4M50.40,562.5v-4.4M111.76,562.5v-4.4M173.12,562.5v-4.4M234.48,562.5v-4.4M295.84,562.5v-4.4M357.20,562.5v-4.4M418.56,562.5v-4.4M479.92,562.5v-4.4M541.28,562.5v-4.4M602.64,562.5v-4.4M664.00,562.5v-4.4" fill="none" stroke="#404040" stroke-width="1.0"/>
<text x="31.34" y="566.90" font-size="12.10" textLength="6.73" lengthAdjust="spacingAndGlyphs" fill="#000" >0</text>
<text x="31.48" y="539.90" font-size="12.10" textLength="6.73" lengthAdjust="spacingAndGlyphs" fill="#000" >2</text>
<text x="31.23" y="512.90" font-size="12.10" textLength="6.73" lengthAdjust="spacingAndGlyphs" fill="#000" >4</text>
<text x="31.40" y="485.90" font-size="12.10" textLength="6.73" lengthAdjust="spacingAndGlyphs" fill="#000" >6</text>
<text x="31.40" y="458.90" font-size="12.10" textLength="6.73" lengthAdjust="spacingAndGlyphs" fill="#000" >8</text>
<text x="47.34" y="583.90" font-size="12.10" textLength="6.73" lengthAdjust="spacingAndGlyphs" fill="#000" >0</text>
<text x="105.11" y="583.90" font-size="12.10" textLength="13.46" lengthAdjust="spacingAndGlyphs" fill="#000" >10</text>
<text x="166.62" y="583.90" font-size="12.10" textLength="13.46" lengthAdjust="spacingAndGlyphs" fill="#000" >20</text>
<text x="228.06" y="583.90" font-size="12.10" textLength="13.46" lengthAdjust="spacingAndGlyphs" fill="#000" >30</text>
<text x="289.51" y="583.90" font-size="12.10" textLength="13.46" lengthAdjust="spacingAndGlyphs" fill="#000" >40</text>
<text x="350.76" y="583.90" font-size="12.10" textLength="13.46" lengthAdjust="spacingAndGlyphs" fill="#000" >50</text>
<text x="412.06" y="583.90" font-size="12.10" textLength="13.46" lengthAdjust="spacingAndGlyphs" fill="#000" >60</text>
<text x="473.42" y="583.90" font-size="12.10" textLength="13.46" lengthAdjust="spacingAndGlyphs" fill="#000" >70</text>
<text x="534.82" y="583.90" font-size="12.10" textLength="13.46" lengthAdjust="spacingAndGlyphs" fill="#000" >80</text>
<text x="596.16" y="583.90" font-size="12.10" textLength="13.46" lengthAdjust="spacingAndGlyphs" fill="#000" >90</text>
<text x="653.98" y="583.90" font-size="12.10" textLength="20.19" lengthAdjust="spacingAndGlyphs" fill="#000" >100</text>
<path d="M487.9,526.1H553.1" stroke="#FFC000" stroke-width="2.9" stroke-dasharray="8.6 2.9"/>
<path d="M487.9,547.2H553.1" stroke="#262626" stroke-width="2.9" stroke-dasharray="8.6 2.9"/>
<text x="559.57" y="530.90" font-size="15.10" textLength="116.41" lengthAdjust="spacingAndGlyphs" fill="#000" >GRX-810 AB - FG</text>
<text x="559.57" y="551.20" font-size="15.10" textLength="117.80" lengthAdjust="spacingAndGlyphs" fill="#000" >GRX-810 AB - CG</text>
<text x="6.61" y="637.20" font-size="16.00" textLength="19.59" lengthAdjust="spacingAndGlyphs" fill="#000" >(d)</text>
<text x="227.13" y="642.00" font-size="15.40" textLength="230.71" lengthAdjust="spacingAndGlyphs" fill="#000" >1093°C / 62 MPa – Vertical Creep</text>
<path d="M51.80,768.59 L52.80,768.51 L53.80,768.42 L54.80,768.33 L55.80,768.25 L56.80,768.16 L57.80,768.08 L58.80,768.00 L59.80,767.91 L60.80,767.83 L61.80,767.75 L62.80,767.66 L63.80,767.58 L64.80,767.50 L65.80,767.42 L66.80,767.34 L67.80,767.25 L68.80,767.17 L69.80,767.09 L70.80,767.01 L71.80,766.93 L72.80,766.85 L73.80,766.77 L74.80,766.69 L75.80,766.61 L76.80,766.53 L77.80,766.46 L78.80,766.38 L79.80,766.30 L80.80,766.22 L81.80,766.14 L82.80,766.07 L83.80,765.99 L84.80,765.91 L85.80,765.84 L86.80,765.76 L87.80,765.68 L88.80,765.61 L89.80,765.53 L90.80,765.45 L91.81,765.38 L92.81,765.30 L93.81,765.23 L94.81,765.15 L95.81,765.08 L96.81,765.00 L97.81,764.93 L98.81,764.86 L99.81,764.78 L100.81,764.71 L101.81,764.63 L102.81,764.56 L103.81,764.49 L104.82,764.41 L105.82,764.34 L106.82,764.27 L107.82,764.20 L108.82,764.12 L109.82,764.05 L110.82,763.98 L111.82,763.91 L112.82,763.83 L113.82,763.76 L114.83,763.69 L115.83,763.62 L116.83,763.55 L117.83,763.48 L118.83,763.41 L119.83,763.33 L120.83,763.26 L121.83,763.19 L122.84,763.12 L123.84,763.05 L124.84,762.98 L125.84,762.91 L126.84,762.84 L127.84,762.77 L128.84,762.70 L129.84,762.63 L130.85,762.56 L131.85,762.49 L132.85,762.42 L133.85,762.35 L134.85,762.28 L135.85,762.21 L136.85,762.14 L137.85,762.07 L138.86,762.00 L139.86,761.93 L140.86,761.86 L141.86,761.79 L142.86,761.72 L143.86,761.65 L144.86,761.58 L145.86,761.51 L146.87,761.44 L147.87,761.37 L148.87,761.30 L149.87,761.24 L150.87,761.17 L151.87,761.10 L152.87,761.03 L153.88,760.96 L154.88,760.89 L155.88,760.82 L156.88,760.75 L157.88,760.68 L158.88,760.61 L159.88,760.54 L160.89,760.47 L161.89,760.40 L162.89,760.33 L163.89,760.26 L164.89,760.19 L165.89,760.12 L166.89,760.05 L167.90,759.99 L168.90,759.92 L169.90,759.85 L170.90,759.78 L171.90,759.71 L172.90,759.64 L173.90,759.57 L174.90,759.50 L175.91,759.43 L176.91,759.36 L177.91,759.28 L178.91,759.21 L179.91,759.14 L180.91,759.07 L181.91,759.00 L182.92,758.93 L183.92,758.86 L184.92,758.79 L185.92,758.72 L186.92,758.65 L187.92,758.58 L188.92,758.51 L189.92,758.43 L190.93,758.36 L191.93,758.29 L192.93,758.22 L193.93,758.15 L194.93,758.07 L195.93,758.00 L196.93,757.93 L197.93,757.86 L198.93,757.78 L199.94,757.71 L200.94,757.64 L201.94,757.56 L202.94,757.49 L203.94,757.42 L204.94,757.34 L205.94,757.27 L206.94,757.20 L207.94,757.12 L208.94,757.05 L209.94,756.97 L210.95,756.90 L211.95,756.82 L212.95,756.75 L213.95,756.67 L214.95,756.60 L215.95,756.52 L216.95,756.44 L217.95,756.37 L218.95,756.29 L219.95,756.22 L220.95,756.14 L221.95,756.06 L222.95,755.98 L223.96,755.91 L224.96,755.83 L225.96,755.75 L226.96,755.67 L227.96,755.59 L228.96,755.52 L229.96,755.44 L230.96,755.36 L231.96,755.28 L232.96,755.20 L233.96,755.12 L234.96,755.04 L235.96,754.96 L236.96,754.88 L237.96,754.79 L238.96,754.71 L239.96,754.63 L240.96,754.55 L241.96,754.47 L242.96,754.38 L243.96,754.30 L244.96,754.22 L245.96,754.14 L246.96,754.05 L247.96,753.97 L248.96,753.88 L249.96,753.80 L250.96,753.71 L251.96,753.63 L252.96,753.54 L253.96,753.46 L254.96,753.37 L255.96,753.28 L256.96,753.20 L257.96,753.11 L258.96,753.02 L259.96,752.93 L260.96,752.84 L261.96,752.76 L262.96,752.67 L263.96,752.58 L264.96,752.49 L265.96,752.40 L266.95,752.31 L267.95,752.22 L268.95,752.12 L269.95,752.03 L270.95,751.94 L271.95,751.85 L272.95,751.75 L273.95,751.66 L274.95,751.57 L275.95,751.47 L276.95,751.38 L277.94,751.28 L278.94,751.19 L279.94,751.09 L280.94,751.00 L281.94,750.90 L282.94,750.80 L283.94,750.71 L284.93,750.61 L285.93,750.51 L286.93,750.41 L287.93,750.31 L288.93,750.21 L289.93,750.11 L290.92,750.01 L291.92,749.91 L292.92,749.81 L293.92,749.71 L294.92,749.60 L295.92,749.50 L296.91,749.40 L297.91,749.29 L298.91,749.19 L299.91,749.09 L300.90,748.98 L301.90,748.87 L302.90,748.77 L303.90,748.66 L304.90,748.55 L305.89,748.45 L306.89,748.34 L307.89,748.23 L308.89,748.12 L309.88,748.01 L310.88,747.90 L311.88,747.79 L312.87,747.68 L313.87,747.57 L314.87,747.45 L315.87,747.34 L316.86,747.23 L317.86,747.11 L318.86,747.00 L319.85,746.88 L320.85,746.77 L321.85,746.65 L322.84,746.54 L323.84,746.42 L324.84,746.30 L325.83,746.18 L326.83,746.06 L327.82,745.94 L328.82,745.82 L329.82,745.70 L330.81,745.58 L331.81,745.46 L332.81,745.34 L333.80,745.22 L334.80,745.09 L335.79,744.97 L336.79,744.84 L337.78,744.72 L338.78,744.59 L339.78,744.47 L340.77,744.34 L341.77,744.22 L342.76,744.09 L343.76,743.96 L344.75,743.83 L345.75,743.70 L346.74,743.57 L347.74,743.45 L348.73,743.32 L349.73,743.18 L350.72,743.05 L351.72,742.92 L352.71,742.79 L353.71,742.66 L354.70,742.53 L355.70,742.39 L356.69,742.26 L357.69,742.13 L358.68,741.99 L359.68,741.86 L360.67,741.72 L361.67,741.59 L362.66,741.45 L363.66,741.31 L364.65,741.18 L365.64,741.04 L366.64,740.90 L367.63,740.77 L368.63,740.63 L369.62,740.49 L370.62,740.35 L371.61,740.21 L372.60,740.07 L373.60,739.93 L374.59,739.79 L375.59,739.65 L376.58,739.51 L377.57,739.37 L378.57,739.23 L379.56,739.09 L380.56,738.94 L381.55,738.80 L382.54,738.66 L383.54,738.52 L384.53,738.37 L385.52,738.23 L386.52,738.09 L387.51,737.94 L388.50,737.80 L389.50,737.65 L390.49,737.51 L391.48,737.36 L392.48,737.22 L393.47,737.07 L394.46,736.93 L395.46,736.78 L396.45,736.63 L397.44,736.49 L398.44,736.34 L399.43,736.19 L400.42,736.05 L401.42,735.90 L402.41,735.75 L403.40,735.60 L404.39,735.45 L405.39,735.31 L406.38,735.16 L407.37,735.01 L408.37,734.86 L409.36,734.71 L410.35,734.56 L411.34,734.41 L412.34,734.26 L413.33,734.11 L414.32,733.96 L415.31,733.81 L416.31,733.66 L417.30,733.51 L418.29,733.36 L419.28,733.21 L420.28,733.06 L421.27,732.91 L422.26,732.76 L423.25,732.61 L424.25,732.46 L425.24,732.31 L426.23,732.16 L427.22,732.01 L428.22,731.85 L429.21,731.70 L430.20,731.55 L431.19,731.40 L432.18,731.25 L433.18,731.10 L434.17,730.94 L435.16,730.79 L436.15,730.64 L437.14,730.49 L438.14,730.34 L439.13,730.18 L440.12,730.03 L441.11,729.88 L442.10,729.73 L443.10,729.58 L444.09,729.42 L445.08,729.27 L446.07,729.12 L447.06,728.97 L448.06,728.81 L449.05,728.66 L450.04,728.51 L451.03,728.36 L452.02,728.21 L453.02,728.05 L454.01,727.90 L455.00,727.75 L455.99,727.60 L456.98,727.44 L457.97,727.29 L458.97,727.14 L459.96,726.99 L460.95,726.84 L461.94,726.69 L462.93,726.53 L463.92,726.38 L464.92,726.23 L465.91,726.08 L466.90,725.93 L467.89,725.78 L468.88,725.63 L469.87,725.47 L470.87,725.32 L471.86,725.17 L472.85,725.02 L473.84,724.87 L474.83,724.72 L475.82,724.57 L476.81,724.42 L477.81,724.26 L478.80,724.11 L479.79,723.96 L480.78,723.81 L481.77,723.65 L482.76,723.50 L483.75,723.35 L484.74,723.19 L485.74,723.04 L486.73,722.88 L487.72,722.72 L488.71,722.56 L489.70,722.41 L490.69,722.25 L491.68,722.09 L492.67,721.93 L493.66,721.76 L494.65,721.60 L495.64,721.44 L496.63,721.27 L497.62,721.10 L498.61,720.94 L499.60,720.77 L500.59,720.60 L501.58,720.43 L502.57,720.25 L503.56,720.08 L504.55,719.90 L505.54,719.73 L506.53,719.55 L507.52,719.37 L508.51,719.18 L509.50,719.00 L510.49,718.81 L511.48,718.62 L512.46,718.44 L513.45,718.24 L514.44,718.05 L515.43,717.85 L516.41,717.65 L517.40,717.45 L518.39,717.24 L519.37,717.04 L520.35,716.82 L521.34,716.61 L522.32,716.39 L523.30,716.16 L524.28,715.94 L525.26,715.71 L526.23,715.47 L527.21,715.23 L528.18,714.98 L529.15,714.73 L530.12,714.47 L531.09,714.21 L532.06,713.94 L533.02,713.67 L533.98,713.39 L534.94,713.11 L535.90,712.82 L536.85,712.52 L537.80,712.21 L538.75,711.90 L539.70,711.58 L540.65,711.26 L541.59,710.92 L542.53,710.58 L543.46,710.24 L544.40,709.88 L545.33,709.52 L546.25,709.15 L547.18,708.77 L548.10,708.39 L549.02,708.00 L549.94,707.61 L550.85,707.20 L551.76,706.79 L552.67,706.38 L553.57,705.96 L554.48,705.53 L555.38,705.09 L556.27,704.65 L557.17,704.20 L558.06,703.75 L558.95,703.29 L559.83,702.83 L560.72,702.36 L561.60,701.88 L562.47,701.40 L563.35,700.91 L564.22,700.42 L565.09,699.92 L565.96,699.42 L566.82,698.91 L567.68,698.39 L568.54,697.87 L569.40,697.35 L570.25,696.82 L571.10,696.29 L571.95,695.75 L572.80,695.21 L573.64,694.66 L574.48,694.11 L575.32,693.56 L576.16,693.00 L576.99,692.44 L577.82,691.88 L578.65,691.31 L579.48,690.74 L580.31,690.17 L581.13,689.60 L581.96,689.02 L582.78,688.45 L583.60,687.87 L584.41,687.29 L585.23,686.71 L586.05,686.12 L586.86,685.54 L587.67,684.96 L588.48,684.37" fill="none" stroke="#FFC000" stroke-width="2.0" stroke-dasharray="5.661 4.569"/>
<path d="M51.80,768.69 L52.80,768.66 L53.80,768.63 L54.81,768.59 L55.81,768.56 L56.81,768.53 L57.82,768.49 L58.82,768.46 L59.82,768.42 L60.82,768.39 L61.83,768.35 L62.83,768.32 L63.83,768.28 L64.83,768.24 L65.84,768.21 L66.84,768.17 L67.84,768.13 L68.84,768.09 L69.85,768.06 L70.85,768.02 L71.85,767.98 L72.85,767.94 L73.86,767.90 L74.86,767.86 L75.86,767.82 L76.86,767.78 L77.86,767.74 L78.87,767.70 L79.87,767.66 L80.87,767.61 L81.87,767.57 L82.87,767.53 L83.87,767.49 L84.88,767.44 L85.88,767.40 L86.88,767.36 L87.88,767.31 L88.88,767.27 L89.88,767.23 L90.88,767.18 L91.89,767.14 L92.89,767.09 L93.89,767.05 L94.89,767.00 L95.89,766.95 L96.89,766.91 L97.89,766.86 L98.90,766.81 L99.90,766.77 L100.90,766.72 L101.90,766.67 L102.90,766.62 L103.90,766.58 L104.90,766.53 L105.90,766.48 L106.90,766.43 L107.90,766.38 L108.91,766.33 L109.91,766.28 L110.91,766.23 L111.91,766.18 L112.91,766.13 L113.91,766.08 L114.91,766.03 L115.91,765.98 L116.91,765.93 L117.91,765.88 L118.91,765.83 L119.91,765.78 L120.91,765.73 L121.91,765.68 L122.92,765.62 L123.92,765.57 L124.92,765.52 L125.92,765.47 L126.92,765.41 L127.92,765.36 L128.92,765.31 L129.92,765.25 L130.92,765.20 L131.92,765.15 L132.92,765.09 L133.92,765.04 L134.92,764.99 L135.92,764.93 L136.92,764.88 L137.92,764.82 L138.92,764.77 L139.92,764.71 L140.92,764.66 L141.92,764.60 L142.92,764.55 L143.92,764.49 L144.92,764.44 L145.92,764.38 L146.93,764.33 L147.93,764.27 L148.93,764.22 L149.93,764.16 L150.93,764.10 L151.93,764.05 L152.93,763.99 L153.93,763.94 L154.93,763.88 L155.93,763.82 L156.93,763.77 L157.93,763.71 L158.93,763.65 L159.93,763.60 L160.93,763.54 L161.93,763.48 L162.93,763.43 L163.93,763.37 L164.93,763.31 L165.93,763.25 L166.93,763.20 L167.93,763.14 L168.93,763.08 L169.93,763.03 L170.93,762.97 L171.93,762.91 L172.93,762.85 L173.93,762.79 L174.93,762.74 L175.93,762.68 L176.93,762.62 L177.93,762.56 L178.94,762.51 L179.94,762.45 L180.94,762.39 L181.94,762.33 L182.94,762.27 L183.94,762.22 L184.94,762.16 L185.94,762.10 L186.94,762.04 L187.94,761.99 L188.94,761.93 L189.94,761.87 L190.94,761.81 L191.94,761.75 L192.94,761.70 L193.94,761.64 L194.94,761.58 L195.94,761.52 L196.95,761.47 L197.95,761.41 L198.95,761.35 L199.95,761.29 L200.95,761.23 L201.95,761.18 L202.95,761.12 L203.95,761.06 L204.95,761.00 L205.95,760.95 L206.95,760.89 L207.95,760.83 L208.96,760.78 L209.96,760.72 L210.96,760.66 L211.96,760.60 L212.96,760.55 L213.96,760.49 L214.96,760.43 L215.96,760.38 L216.96,760.32 L217.97,760.26 L218.97,760.21 L219.97,760.15 L220.97,760.09 L221.97,760.04 L222.97,759.98 L223.97,759.92 L224.97,759.87 L225.98,759.81 L226.98,759.75 L227.98,759.69 L228.98,759.64 L229.98,759.58 L230.98,759.52 L231.98,759.47 L232.99,759.41 L233.99,759.35 L234.99,759.29 L235.99,759.24 L236.99,759.18 L237.99,759.12 L238.99,759.06 L240.00,759.01 L241.00,758.95 L242.00,758.89 L243.00,758.83 L244.00,758.77 L245.00,758.71 L246.01,758.66 L247.01,758.60 L248.01,758.54 L249.01,758.48 L250.01,758.42 L251.01,758.36 L252.01,758.30 L253.02,758.24 L254.02,758.18 L255.02,758.12 L256.02,758.06 L257.02,758.00 L258.02,757.94 L259.02,757.88 L260.02,757.81 L261.03,757.75 L262.03,757.69 L263.03,757.63 L264.03,757.57 L265.03,757.50 L266.03,757.44 L267.03,757.38 L268.03,757.31 L269.03,757.25 L270.04,757.18 L271.04,757.12 L272.04,757.05 L273.04,756.99 L274.04,756.92 L275.04,756.86 L276.04,756.79 L277.04,756.73 L278.04,756.66 L279.04,756.59 L280.04,756.52 L281.05,756.46 L282.05,756.39 L283.05,756.32 L284.05,756.25 L285.05,756.18 L286.05,756.11 L287.05,756.04 L288.05,755.97 L289.05,755.90 L290.05,755.82 L291.05,755.75 L292.05,755.68 L293.05,755.61 L294.05,755.53 L295.05,755.46 L296.05,755.39 L297.05,755.31 L298.05,755.24 L299.05,755.16 L300.05,755.08 L301.05,755.01 L302.05,754.93 L303.05,754.85 L304.05,754.77 L305.05,754.69 L306.05,754.61 L307.05,754.53 L308.04,754.45 L309.04,754.37 L310.04,754.29 L311.04,754.21 L312.04,754.13 L313.04,754.04 L314.04,753.96 L315.04,753.87 L316.04,753.79 L317.03,753.70 L318.03,753.62 L319.03,753.53 L320.03,753.44 L321.03,753.35 L322.03,753.27 L323.03,753.18 L324.02,753.09 L325.02,753.00 L326.02,752.90 L327.02,752.81 L328.01,752.72 L329.01,752.63 L330.01,752.53 L331.01,752.44 L332.00,752.34 L333.00,752.25 L334.00,752.15 L335.00,752.05 L335.99,751.95 L336.99,751.85 L337.99,751.75 L338.98,751.65 L339.98,751.55 L340.98,751.45 L341.97,751.35 L342.97,751.24 L343.97,751.14 L344.96,751.03 L345.96,750.93 L346.95,750.82 L347.95,750.71 L348.95,750.61 L349.94,750.50 L350.94,750.39 L351.93,750.28 L352.93,750.17 L353.92,750.05 L354.92,749.94 L355.91,749.83 L356.91,749.71 L357.90,749.60 L358.90,749.48 L359.89,749.37 L360.89,749.25 L361.88,749.13 L362.88,749.01 L363.87,748.89 L364.86,748.77 L365.86,748.65 L366.85,748.53 L367.85,748.41 L368.84,748.29 L369.83,748.16 L370.83,748.04 L371.82,747.91 L372.82,747.79 L373.81,747.66 L374.80,747.54 L375.80,747.41 L376.79,747.28 L377.78,747.15 L378.78,747.02 L379.77,746.89 L380.76,746.76 L381.75,746.63 L382.75,746.50 L383.74,746.37 L384.73,746.24 L385.73,746.10 L386.72,745.97 L387.71,745.83 L388.70,745.70 L389.70,745.56 L390.69,745.43 L391.68,745.29 L392.67,745.15 L393.66,745.02 L394.66,744.88 L395.65,744.74 L396.64,744.60 L397.63,744.46 L398.62,744.32 L399.62,744.18 L400.61,744.04 L401.60,743.89 L402.59,743.75 L403.58,743.61 L404.57,743.46 L405.56,743.32 L406.56,743.18 L407.55,743.03 L408.54,742.89 L409.53,742.74 L410.52,742.59 L411.51,742.45 L412.50,742.30 L413.49,742.15 L414.49,742.00 L415.48,741.85 L416.47,741.71 L417.46,741.56 L418.45,741.41 L419.44,741.26 L420.43,741.11 L421.42,740.95 L422.41,740.80 L423.40,740.65 L424.39,740.50 L425.38,740.35 L426.37,740.19 L427.37,740.04 L428.36,739.89 L429.35,739.73 L430.34,739.58 L431.33,739.42 L432.32,739.27 L433.31,739.11 L434.30,738.96 L435.29,738.80 L436.28,738.64 L437.27,738.49 L438.26,738.33 L439.25,738.17 L440.24,738.01 L441.23,737.86 L442.22,737.70 L443.21,737.54 L444.20,737.38 L445.19,737.22 L446.18,737.06 L447.17,736.90 L448.16,736.74 L449.15,736.58 L450.14,736.42 L451.13,736.26 L452.12,736.10 L453.11,735.94 L454.10,735.78 L455.09,735.62 L456.08,735.45 L457.07,735.29 L458.06,735.13 L459.05,734.97 L460.04,734.80 L461.03,734.64 L462.02,734.48 L463.01,734.32 L464.00,734.15 L464.99,733.99 L465.98,733.82 L466.97,733.66 L467.96,733.50 L468.95,733.33 L469.94,733.17 L470.93,733.00 L471.92,732.84 L472.91,732.67 L473.90,732.51 L474.89,732.34 L475.88,732.18 L476.87,732.01 L477.86,731.85 L478.85,731.68 L479.84,731.52 L480.83,731.35 L481.82,731.19 L482.81,731.02 L483.80,730.85 L484.79,730.69 L485.78,730.52 L486.77,730.35 L487.76,730.19 L488.75,730.02 L489.74,729.86 L490.73,729.69 L491.72,729.52 L492.71,729.36 L493.70,729.19 L494.70,729.02 L495.69,728.86 L496.68,728.69 L497.67,728.52 L498.66,728.35 L499.65,728.18 L500.64,728.01 L501.63,727.84 L502.61,727.67 L503.60,727.50 L504.59,727.33 L505.58,727.16 L506.57,726.98 L507.56,726.81 L508.55,726.63 L509.53,726.45 L510.52,726.27 L511.51,726.09 L512.50,725.91 L513.48,725.73 L514.47,725.54 L515.45,725.36 L516.44,725.17 L517.42,724.98 L518.41,724.79 L519.39,724.60 L520.38,724.40 L521.36,724.21 L522.34,724.01 L523.32,723.81 L524.30,723.61 L525.28,723.40 L526.26,723.20 L527.24,722.99 L528.22,722.78 L529.20,722.56 L530.18,722.35 L531.16,722.13 L532.13,721.91 L533.11,721.68 L534.08,721.46 L535.06,721.23 L536.03,720.99 L537.00,720.76 L537.97,720.52 L538.94,720.28 L539.91,720.04 L540.88,719.79 L541.85,719.54 L542.82,719.29 L543.79,719.03 L544.75,718.77 L545.72,718.50 L546.68,718.24 L547.64,717.97 L548.60,717.69 L549.56,717.41 L550.52,717.13 L551.48,716.85 L552.44,716.56 L553.40,716.26 L554.35,715.97 L555.30,715.66 L556.26,715.36 L557.21,715.05 L558.16,714.74 L559.11,714.42 L560.06,714.09 L561.00,713.77 L561.95,713.44 L562.89,713.10 L563.84,712.76 L564.78,712.41 L565.72,712.06 L566.65,711.70 L567.59,711.34 L568.52,710.97 L569.45,710.59 L570.37,710.20 L571.29,709.81 L572.20,709.41 L573.12,709.00 L574.02,708.58 L574.92,708.15 L575.82,707.71 L576.71,707.26 L577.59,706.80 L578.47,706.33 L579.34,705.85 L580.21,705.36 L581.07,704.86 L581.92,704.34 L582.76,703.82 L583.60,703.28 L584.43,702.73 L585.25,702.17 L586.07,701.60 L586.88,701.02 L587.69,700.43 L588.48,699.83 L589.28,699.23 L590.07,698.61 L590.85,697.99 L591.63,697.36 L592.40,696.72 L593.16,696.07 L593.93,695.42 L594.69,694.76 L595.44,694.09 L596.19,693.42 L596.93,692.74 L597.67,692.06 L598.41,691.37 L599.15,690.68 L599.88,689.99 L600.61,689.29 L601.33,688.59 L602.06,687.89 L602.79,687.19 L603.51,686.49 L604.23,685.79 L604.96,685.09 L605.68,684.39 L606.41,683.69 L607.14,683.00 L607.87,682.31 L608.60,681.63 L609.33,680.95 L610.07,680.27 L610.81,679.60 L611.56,678.94 L612.31,678.29 L613.06,677.65 L613.82,677.01 L614.59,676.38" fill="none" stroke="#262626" stroke-width="2.0" stroke-dasharray="5.669 4.575"/>
<path d="M51.7,660.5 V768.7 H667.3" fill="none" stroke="#404040" stroke-width="1.0"/>
<path d="M51.7,768.70h4.4M51.7,747.06h4.4M51.7,725.42h4.4M51.7,703.78h4.4M51.7,682.14h4.4M51.7,660.50h4.4M51.70,768.7v-4.4M154.30,768.7v-4.4M256.90,768.7v-4.4M359.50,768.7v-4.4M462.10,768.7v-4.4M564.70,768.7v-4.4M667.30,768.7v-4.4" fill="none" stroke="#404040" stroke-width="1.0"/>
<text x="32.54" y="773.10" font-size="12.10" textLength="6.73" lengthAdjust="spacingAndGlyphs" fill="#000" >0</text>
<text x="32.68" y="751.46" font-size="12.10" textLength="6.73" lengthAdjust="spacingAndGlyphs" fill="#000" >2</text>
<text x="32.43" y="729.82" font-size="12.10" textLength="6.73" lengthAdjust="spacingAndGlyphs" fill="#000" >4</text>
<text x="32.60" y="708.18" font-size="12.10" textLength="6.73" lengthAdjust="spacingAndGlyphs" fill="#000" >6</text>
<text x="32.60" y="686.54" font-size="12.10" textLength="6.73" lengthAdjust="spacingAndGlyphs" fill="#000" >8</text>
<text x="25.81" y="664.90" font-size="12.10" textLength="13.46" lengthAdjust="spacingAndGlyphs" fill="#000" >10</text>
<text x="48.64" y="790.10" font-size="12.10" textLength="6.73" lengthAdjust="spacingAndGlyphs" fill="#000" >0</text>
<text x="151.24" y="790.10" font-size="12.10" textLength="6.73" lengthAdjust="spacingAndGlyphs" fill="#000" >2</text>
<text x="253.87" y="790.10" font-size="12.10" textLength="6.73" lengthAdjust="spacingAndGlyphs" fill="#000" >4</text>
<text x="356.39" y="790.10" font-size="12.10" textLength="6.73" lengthAdjust="spacingAndGlyphs" fill="#000" >6</text>
<text x="459.04" y="790.10" font-size="12.10" textLength="6.73" lengthAdjust="spacingAndGlyphs" fill="#000" >8</text>
<text x="558.05" y="790.10" font-size="12.10" textLength="13.46" lengthAdjust="spacingAndGlyphs" fill="#000" >10</text>
<text x="660.71" y="790.10" font-size="12.10" textLength="13.46" lengthAdjust="spacingAndGlyphs" fill="#000" >12</text>
<path d="M96.1,687.3H161.2" stroke="#FFC000" stroke-width="2.9" stroke-dasharray="8.6 2.9"/>
<path d="M96.1,708.5H161.2" stroke="#262626" stroke-width="2.9" stroke-dasharray="8.6 2.9"/>
<text x="167.77" y="691.90" font-size="15.10" textLength="116.41" lengthAdjust="spacingAndGlyphs" fill="#000" >GRX-810 AB - FG</text>
<text x="167.77" y="712.40" font-size="15.10" textLength="117.80" lengthAdjust="spacingAndGlyphs" fill="#000" >GRX-810 AB - CG</text>
<text transform="translate(25.00,328.43) rotate(-90)" x="0" y="0" font-size="12.40" textLength="51.85" lengthAdjust="spacingAndGlyphs" fill="#000">Strain (%)</text>
<text transform="translate(25.00,534.43) rotate(-90)" x="0" y="0" font-size="12.40" textLength="52.16" lengthAdjust="spacingAndGlyphs" fill="#000">Strain (%)</text>
<text transform="translate(19.00,740.83) rotate(-90)" x="0" y="0" font-size="12.40" textLength="52.16" lengthAdjust="spacingAndGlyphs" fill="#000">Strain (%)</text>
<text x="327.63" y="396.90" font-size="12.00" textLength="56.71" lengthAdjust="spacingAndGlyphs" fill="#000" >Time (Hrs)</text>
<text x="329.63" y="602.60" font-size="12.00" textLength="55.90" lengthAdjust="spacingAndGlyphs" fill="#000" >Time (Hrs)</text>
<text x="331.43" y="809.30" font-size="12.00" textLength="56.51" lengthAdjust="spacingAndGlyphs" fill="#000" >Time (Hrs)</text>
<path d="M0.5,0.5H684.5V824.5H0.5Z M0.5,206.5H684.5 M0.5,618.4H684.5" fill="none" stroke="#222" stroke-width="1.15"/><path d="M0.5,412.2H684.5" stroke="#222" stroke-width="1.3"/>
</svg>
</body></html>
